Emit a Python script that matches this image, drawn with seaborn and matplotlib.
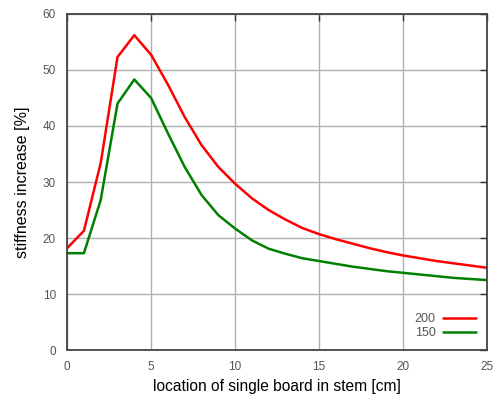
import pandas as pd
import matplotlib.pyplot as plt
import seaborn as sns

location = list(range(0, 26))
stiff_200 = [18.2, 21.3, 33.4, 52.3, 56.2, 52.7, 47.4, 41.6, 36.6, 32.7,
             29.7, 27.1, 25.0, 23.3, 21.8, 20.7, 19.8, 19.0, 18.2, 17.5,
             16.9, 16.4, 15.9, 15.5, 15.1, 14.7]
stiff_150 = [17.3, 17.3, 26.8, 44.0, 48.3, 45.0, 38.7, 32.7, 27.7, 24.1,
             21.7, 19.6, 18.1, 17.2, 16.4, 15.9, 15.4, 14.9, 14.5, 14.1,
             13.8, 13.5, 13.2, 12.9, 12.7, 12.5]
series = ["200", "150"]

df = pd.concat([
    pd.DataFrame({"x": location, "y": stiff_200, "series": "200"}),
    pd.DataFrame({"x": location, "y": stiff_150, "series": "150"}),
])

sns.set_style("white")
plt.rcParams["font.family"] = ["Liberation Sans", "DejaVu Sans"]

fig = plt.figure(figsize=(5.01, 3.97), dpi=100)
ax = fig.add_axes([0.134, 0.118, 0.838, 0.847])

sns.lineplot(data=df, x="x", y="y", hue="series", hue_order=series,
             palette={"200": "#ff0000", "150": "#008000"}, linewidth=1.8, ax=ax)

ax.set_xlim(0, 25)
ax.set_ylim(0, 60)
ax.set_xticks([0, 5, 10, 15, 20, 25])
ax.set_yticks([0, 10, 20, 30, 40, 50, 60])
ax.grid(True, color="#b0b0b0", linewidth=1.0)
ax.set_axisbelow(True)
ax.tick_params(direction="in", length=5, width=1, top=True, right=True,
               labelsize=8.5, labelcolor="#555555", color="#333333", pad=8)
for s in ax.spines.values():
    s.set_color("#444444")
    s.set_linewidth(1.3)

ax.set_xlabel("location of single board in stem [cm]", fontsize=11.2,
              color="black", labelpad=4)
ax.set_ylabel("stiffness increase [%]", fontsize=11.5, color="black", labelpad=9)

leg = ax.legend(loc="lower right", frameon=False, markerfirst=False,
                fontsize=9, handlelength=2.6, borderaxespad=0.5,
                labelspacing=0.15, handletextpad=0.6)
for t in leg.get_texts():
    t.set_color("#555555")

fig.savefig("out.png", dpi=100)
